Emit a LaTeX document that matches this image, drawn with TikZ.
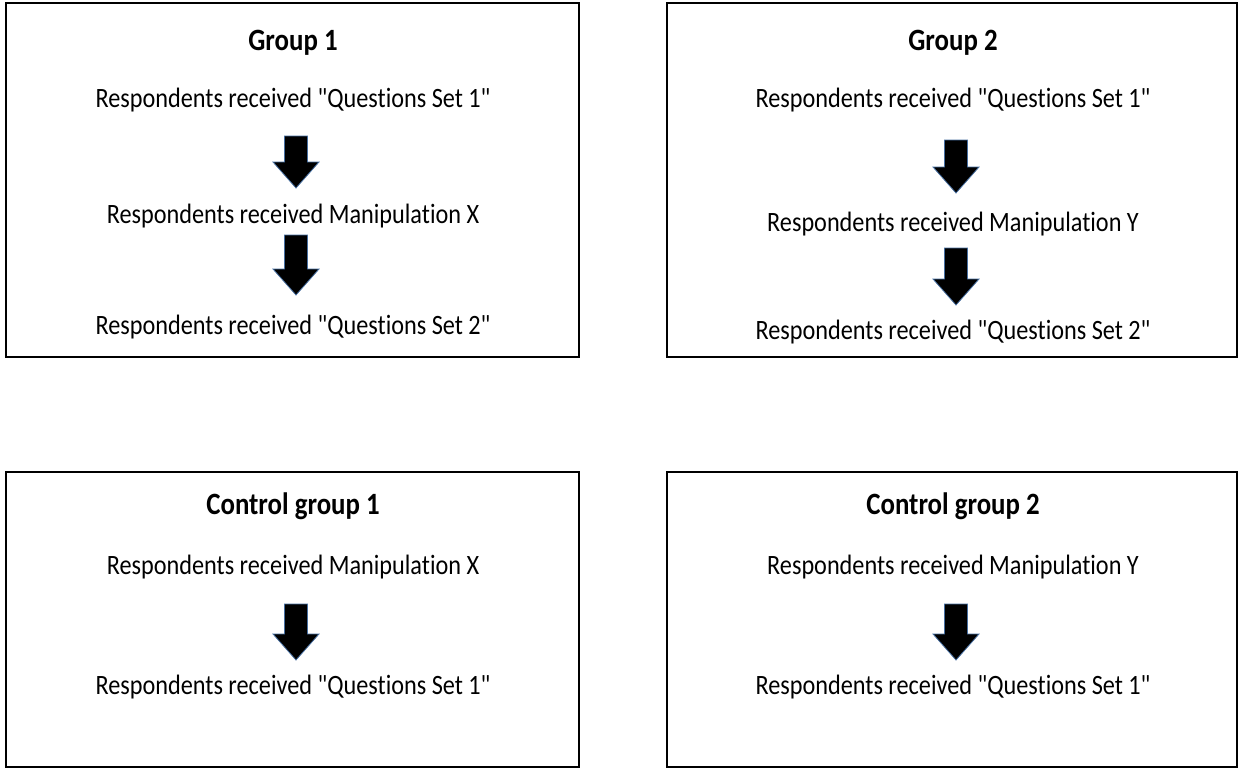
\documentclass[tikz,border=0pt]{standalone}
\usepackage{fontspec}
\usepackage{graphicx}
\setmainfont[RawFeature=-liga]{Carlito}
\usetikzlibrary{calc}
\newcommand{\bodyfont}{\fontsize{28}{32}\selectfont}
\newcommand{\titlefont}{\fontsize{31}{36}\selectfont\bfseries}
\newcommand{\sq}[1]{\scalebox{0.866}[1]{#1}}
\newcommand{\qq}{\textquotedbl}
\begin{document}
\begin{tikzpicture}[x=1pt,y=-1pt,
  panel/.style={draw=black,line width=1.6pt},
  body/.style={font=\bodyfont,inner sep=0pt,anchor=base},
  title/.style={font=\titlefont,inner sep=0pt,anchor=base},
  blockarrow/.style={fill=black,draw={rgb,255:red,70;green,110;blue,160},line width=0.8pt,line join=miter}]
\useasboundingbox (0,0) rectangle (1238,768);
\newcommand{\blockdown}[4]{% name, center x, top y, tip y
  \coordinate (#1) at (#2,#3);
  \coordinate (#1-tip) at (#2,#4);
  \draw[blockarrow] ($(#1)+(-11.5,0)$) -- ($(#1)+(11.5,0)$) -- ($(#1-tip)+(11.5,-26)$) -- ($(#1-tip)+(23,-26)$) -- (#1-tip) -- ($(#1-tip)+(-23,-26)$) -- ($(#1-tip)+(-11.5,-26)$) -- cycle;}
% panels
\draw[panel] (6,3) rectangle (579,357);
\draw[panel] (667,3) rectangle (1237,357);
\draw[panel] (6,472) rectangle (579,767);
\draw[panel] (667,472) rectangle (1237,767);
% Group 1
\node[title] (g1t) at (293,51) {\sq{Group 1}};
\node[body] (g1a) at (293,107) {\sq{Respondents received \qq Questions Set 1\qq}};
\node[body] (g1b) at (293,223) {\sq{Respondents received Manipulation X}};
\node[body] (g1c) at (293,334) {\sq{Respondents received \qq Questions Set 2\qq}};
\blockdown{g1ar1}{296}{136}{188}
\blockdown{g1ar2}{296}{235}{295}
% Group 2
\node[title] (g2t) at (953,51) {\sq{Group 2}};
\node[body] (g2a) at (953,107) {\sq{Respondents received \qq Questions Set 1\qq}};
\node[body] (g2b) at (953,231) {\sq{Respondents received Manipulation Y}};
\node[body] (g2c) at (953,339) {\sq{Respondents received \qq Questions Set 2\qq}};
\blockdown{g2ar1}{956}{140}{193}
\blockdown{g2ar2}{956}{248}{305}
% Control 1
\node[title] (c1t) at (293,514) {\sq{Control group 1}};
\node[body] (c1a) at (293,574) {\sq{Respondents received Manipulation X}};
\node[body] (c1b) at (293,694) {\sq{Respondents received \qq Questions Set 1\qq}};
\blockdown{c1ar}{296}{604}{660}
% Control 2
\node[title] (c2t) at (953,514) {\sq{Control group 2}};
\node[body] (c2a) at (953,574) {\sq{Respondents received Manipulation Y}};
\node[body] (c2b) at (953,694) {\sq{Respondents received \qq Questions Set 1\qq}};
\blockdown{c2ar}{956}{604}{660}
\end{tikzpicture}
\end{document}
